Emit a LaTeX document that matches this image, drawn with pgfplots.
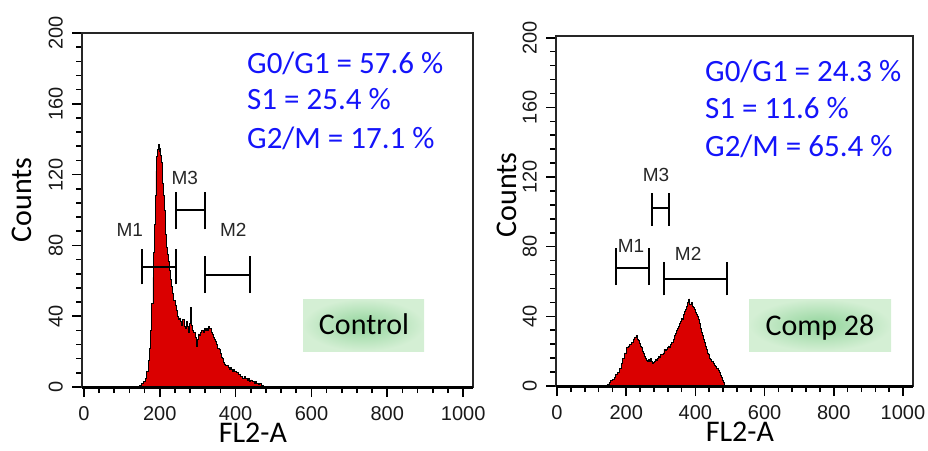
\documentclass[border=0pt]{standalone}
\usepackage{fontspec}
\setmainfont{Carlito}
\newfontfamily\arialf{Liberation Sans}
\usepackage{pgfplots}
\pgfplotsset{compat=1.18}

\definecolor{histred}{RGB}{218,0,0}
\definecolor{txtblue}{RGB}{20,20,250}
\definecolor{boxin}{RGB}{145,212,155}
\definecolor{boxout}{RGB}{212,239,212}

\pgfplotsset{
  flow/.style={
    scale only axis, ymin=0, ymax=200, clip=false,
    xtick={0,200,...,1000}, ytick={0,40,...,200},
    minor x tick num=4, minor y tick num=4,
    tick align=outside, xtick pos=bottom, ytick pos=left,
    major tick length=10pt, minor tick length=6pt,
    axis line style={line width=1.2pt, black!85},
    tick style={line width=1.6pt, black},
    ticklabel style={font=\arialf\fontsize{20}{20}\selectfont, text=black!90, inner sep=0pt},
    /pgf/number format/assume math mode=true,
    /pgf/number format/1000 sep={},
    yticklabel style={rotate=90, anchor=south},
    xticklabel style={anchor=north, yshift=-9pt},
    yticklabel shift=9pt,
    label style={font=\fontsize{30}{30}\selectfont, inner sep=0pt},
    xlabel={FL2-A}, ylabel={Counts},
  },
  hist/.style={const plot, fill=histred, draw=black, line width=0.8pt},
  gate/.style={black, line width=2pt},
}
\tikzset{mlab/.style={font=\arialf\fontsize{19}{19}\selectfont, text=black!85}}

\begin{document}
\begin{tikzpicture}
\path[use as bounding box] (0,0) rectangle (928pt,450pt);

% ---- Control ----
\begin{axis}[flow,
  at={(82pt,63pt)}, anchor=south west,
  width=391pt, height=354pt,
  xmin=-5, xmax=1026,
  xlabel style={at={(axis description cs:0.437,-0.129)}, anchor=center},
  ylabel style={at={(axis description cs:-0.153,0.528)}, anchor=center},
]
\addplot[hist] coordinates {
(140,0) (146,1) (152,2) (158,3) (162,5) (166,9) (170,15) (173,22) (176,32)
(179,47) (182,62) (184,76) (186,92) (188,108) (190,122) (192,130) (194,134)
(196,137) (198,133) (200,135) (202,131) (204,127) (206,122) (208,115) (210,108)
(212,100) (214,92) (216,86) (218,79) (220,75) (222,71) (225,66) (228,61)
(231,57) (234,53) (237,49) (240,46) (243,43) (246,40) (249,38) (252,39)
(255,37) (258,35) (261,38) (264,34) (267,33) (270,37) (273,34) (276,31)
(279,36) (282,45) (284,35) (287,32) (290,31) (293,28) (296,23) (299,27)
(302,30) (305,29) (308,31) (311,32) (314,31) (317,33) (320,32) (323,33)
(326,32) (329,34) (332,33) (335,31) (338,30) (341,28) (344,27) (347,26)
(350,24) (353,22) (356,21) (359,19) (362,17) (365,16) (368,14) (371,13)
(374,12) (377,12) (380,11) (383,10) (386,11) (389,10) (392,9) (395,10)
(398,9) (401,8) (404,8) (407,7) (410,7) (413,6) (416,6) (419,5) (422,6)
(425,5) (428,5) (431,4) (434,5) (437,3) (440,4) (443,3) (446,3) (449,2)
(452,3) (455,2) (458,2) (461,1.5) (464,2) (467,1) (470,1) (473,0.5) (476,0)
} \closedcycle;
\draw[line width=3pt, black] (rel axis cs:0,0) -- (rel axis cs:1,0);
% gates
\addplot[gate] coordinates {(153,68) (243,68)};
\addplot[gate] coordinates {(153,58) (153,78)};
\addplot[gate] coordinates {(243,58) (243,78)};
\addplot[gate] coordinates {(243,100) (319,100)};
\addplot[gate] coordinates {(243,89) (243,110)};
\addplot[gate] coordinates {(319,89) (319,110)};
\addplot[gate] coordinates {(319,63) (438,63)};
\addplot[gate] coordinates {(319,53) (319,74)};
\addplot[gate] coordinates {(438,53) (438,74)};
\node[mlab] at (axis cs:121,89) {M1};
\node[mlab] at (axis cs:266,118) {M3};
\node[mlab] at (axis cs:394,89) {M2};
\end{axis}

% ---- Comp 28 ----
\begin{axis}[flow,
  at={(556pt,64pt)}, anchor=south west,
  width=357pt, height=350pt,
  xmin=-3, xmax=1029, ymax=201,
  xlabel style={at={(axis description cs:0.515,-0.130)}, anchor=center},
  ylabel style={at={(axis description cs:-0.137,0.546)}, anchor=center},
]
\addplot[hist] coordinates {
(140,0) (145,1) (150,2) (155,3) (160,4) (165,5) (170,6.5) (175,8) (180,10)
(185,13) (190,16) (195,19) (200,22) (205,23) (210,24) (215,25) (220,27)
(225,28) (228,29) (231,27) (234,26) (237,24.5) (240,23) (243,22) (246,20)
(249,19) (252,17) (255,16) (258,14.5) (261,14) (264,15) (267,14) (270,16)
(273,14) (276,13) (279,13.5) (282,14) (285,15) (288,14.5) (291,16) (294,17)
(297,16.5) (300,18) (303,18) (306,19) (309,21) (312,20.5) (315,21) (318,22)
(321,23) (324,22) (327,24) (330,25) (333,25) (336,27) (339,29) (342,30)
(345,32) (348,33) (351,34) (354,36) (357,37) (360,39) (363,38) (366,41)
(369,43) (372,44) (375,46) (378,48) (381,50) (384,47) (387,48) (390,46)
(393,45) (396,44) (399,42) (402,41) (405,40) (408,38) (411,36) (414,33)
(417,31) (420,29) (423,27) (426,25) (429,23) (432,21) (435,19) (438,18)
(441,16) (444,15) (447,14) (450,14) (453,13) (456,12) (459,11) (462,10)
(465,9) (468,8) (471,6) (474,5) (477,3) (480,2) (483,1) (485,0)
} \closedcycle;
\draw[line width=3pt, black] (rel axis cs:0,0) -- (rel axis cs:1,0);
% gates
\addplot[gate] coordinates {(170,68) (266,68)};
\addplot[gate] coordinates {(170,58) (170,79)};
\addplot[gate] coordinates {(266,58) (266,79)};
\addplot[gate] coordinates {(275,102) (324,102)};
\addplot[gate] coordinates {(275,92) (275,111)};
\addplot[gate] coordinates {(324,92) (324,111)};
\addplot[gate] coordinates {(309,61.5) (491,61.5)};
\addplot[gate] coordinates {(309,52) (309,71)};
\addplot[gate] coordinates {(491,52) (491,71)};
\node[mlab] at (axis cs:214,80.5) {M1};
\node[mlab] at (axis cs:286,121) {M3};
\node[mlab] at (axis cs:379,76) {M2};
\end{axis}

% ---- percentages ----
\begin{scope}[every node/.style={anchor=base west, inner sep=0, text=txtblue,
  font=\fontsize{31}{31}\selectfont}]
\node at (247pt,376.7pt) {G0/G1 = 57.6 \%};
\node at (247pt,340pt) {S1 = 25.4 \%};
\node at (247pt,301.7pt) {G2/M = 17.1 \%};
\node at (705pt,368.3pt) {G0/G1 = 24.3 \%};
\node at (705pt,331.7pt) {S1 = 11.6 \%};
\node at (705pt,293.3pt) {G2/M = 65.4 \%};
\end{scope}

% ---- sample boxes ----
\shade[inner color=boxin, outer color=boxout] (303pt,99pt) rectangle (424pt,151pt);
\node[anchor=base, font=\fontsize{30}{30}\selectfont] at (364pt,116pt) {Control};
\shade[inner color=boxin, outer color=boxout] (749pt,99pt) rectangle (891pt,151pt);
\node[anchor=base, font=\fontsize{30}{30}\selectfont] at (820pt,115pt) {Comp 28};
\end{tikzpicture}
\end{document}
